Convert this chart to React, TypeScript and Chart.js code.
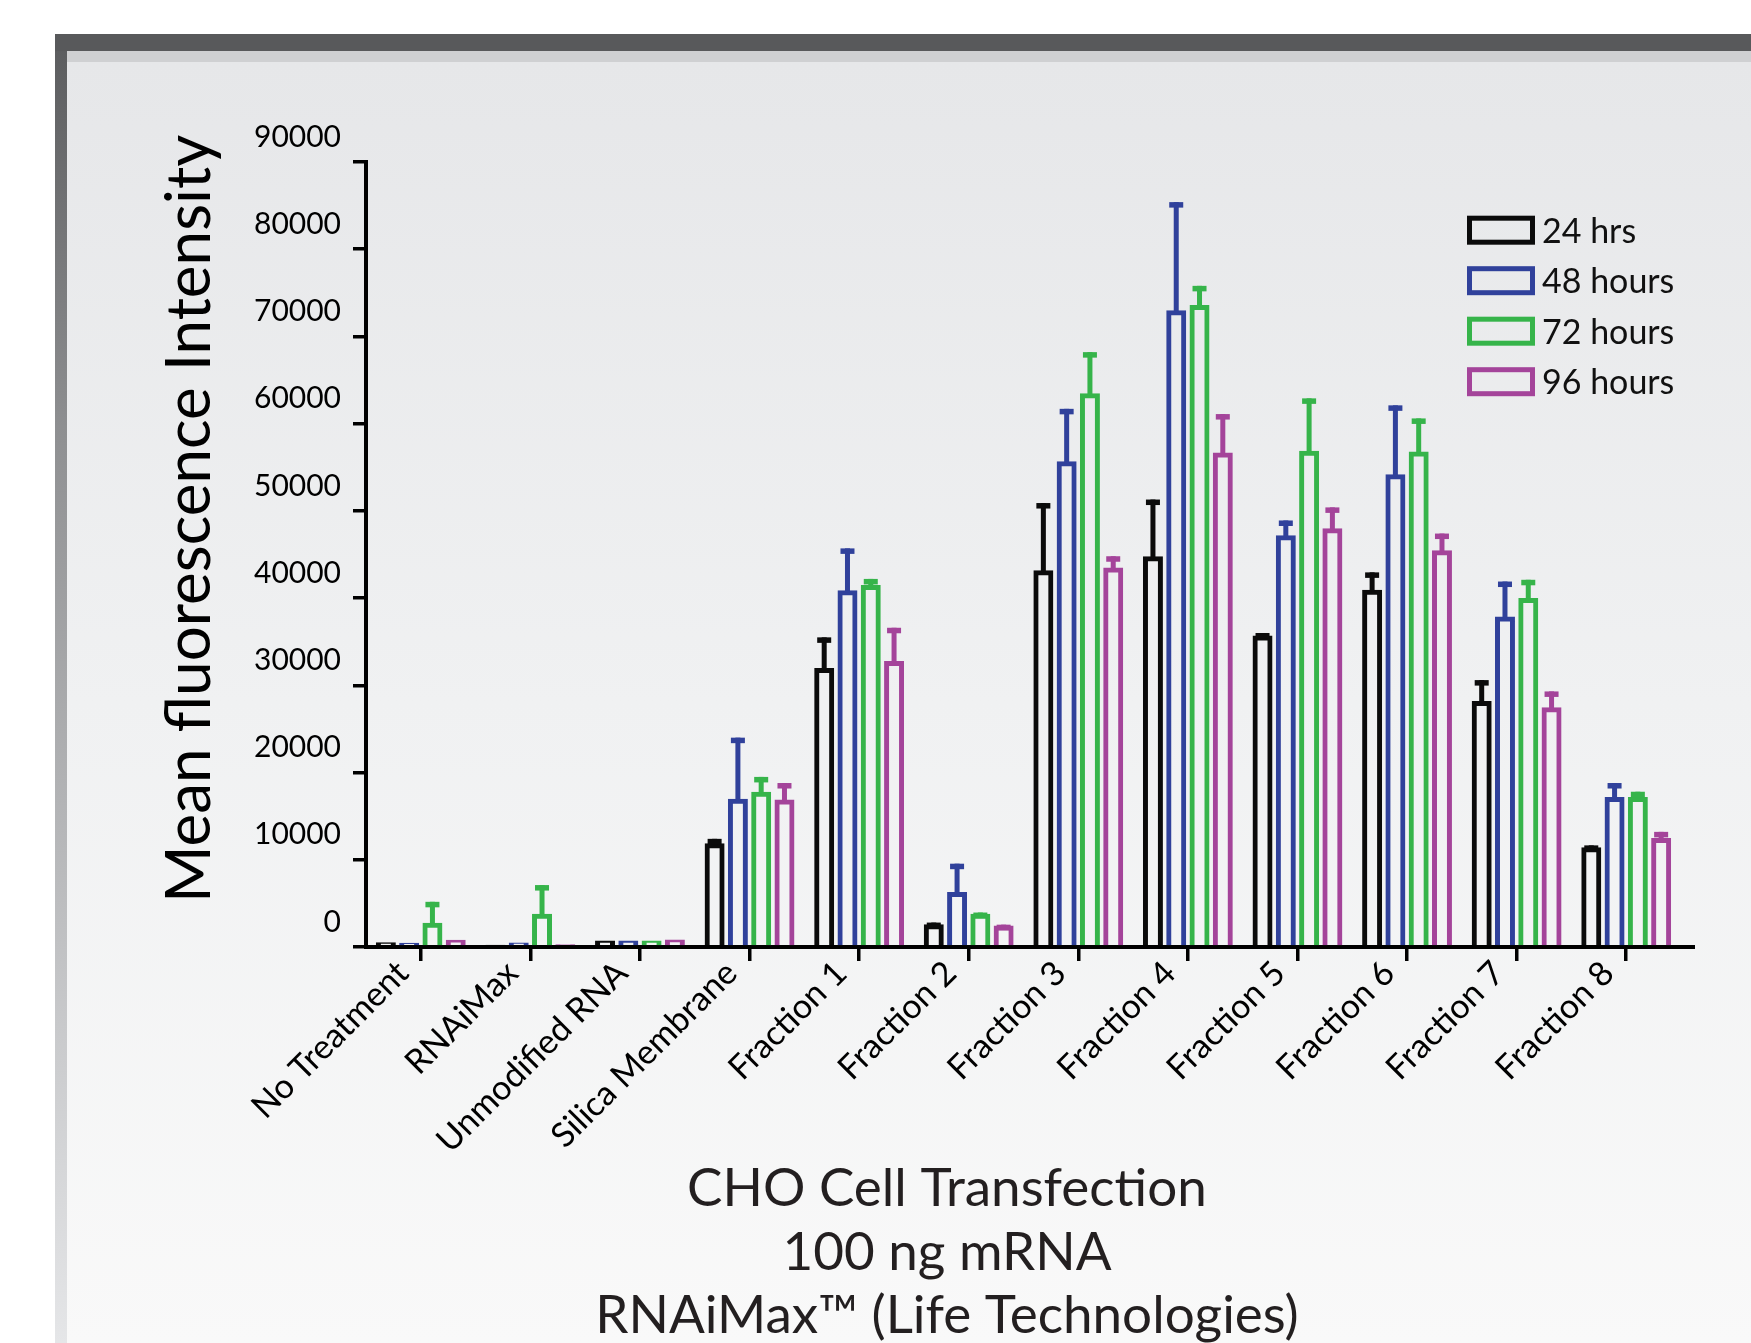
import React, { useEffect, useRef } from 'react';
import { Chart, registerables } from 'chart.js';

Chart.register(...registerables);

// ---------------- data ----------------
const categories = [
  'No Treatment',
  'RNAiMax',
  'Unmodified RNA',
  'Silica Membrane',
  'Fraction 1',
  'Fraction 2',
  'Fraction 3',
  'Fraction 4',
  'Fraction 5',
  'Fraction 6',
  'Fraction 7',
  'Fraction 8',
];

const seriesLabels = ['24 hrs', '48 hours', '72 hours', '96 hours'];

const hrs24 = [550, 250, 750, 11900, 32000, 2600, 43200, 44800, 35700, 40950, 28200, 11450];
const err24 = [0, 0, 0, 500, 3500, 200, 7700, 6500, 300, 2000, 2400, 200];

const hrs48 = [480, 520, 750, 17000, 40900, 6300, 55700, 73000, 47200, 54200, 37900, 17200];
const err48 = [0, 0, 0, 7000, 4800, 3250, 6000, 12400, 1700, 7900, 4000, 1600];

const hrs72 = [2780, 3800, 750, 17800, 41500, 3800, 63500, 73600, 56900, 56800, 40000, 17200];
const err72 = [2400, 3300, 0, 1700, 700, 150, 4700, 2200, 6000, 3800, 2100, 600];

const hrs96 = [830, 320, 860, 16900, 32800, 2460, 43500, 56700, 48000, 45500, 27500, 12500];
const err96 = [0, 0, 0, 1900, 3800, 100, 1300, 4400, 2400, 1900, 1800, 700];

const yMin = 0;
const yMax = 90000;
const yStep = 10000;

const yTitle = 'Mean fluorescence Intensity';
const captionLines = ['CHO Cell Transfection', '100 ng mRNA', 'RNAiMax\u2122 (Life Technologies)'];

// ---------------- styles ----------------
const W = 1751;
const H = 1343;
const seriesColors = ['#0b0b0b', '#30419b', '#36b44a', '#a4449a'];
const FONT = 'Lato, "Open Sans", "DejaVu Sans", sans-serif';

const backgroundPlugin = {
  id: 'frameBackground',
  beforeDraw(chart: any) {
    const ctx = chart.ctx as CanvasRenderingContext2D;
    ctx.save();
    ctx.fillStyle = '#ffffff';
    ctx.fillRect(0, 0, W, H);
    const lg = ctx.createLinearGradient(0, 34, 0, H);
    lg.addColorStop(0, '#5a5b5d');
    lg.addColorStop(0.3, '#8e8f91');
    lg.addColorStop(0.74, '#c6c7c9');
    lg.addColorStop(1, '#e5e6e8');
    ctx.fillStyle = lg;
    ctx.fillRect(55, 34, 12, H - 34);
    ctx.fillStyle = '#58595b';
    ctx.fillRect(55, 34, W - 55, 17);
    ctx.fillStyle = '#cfd0d2';
    ctx.fillRect(67, 51, W - 67, 11);
    const ig = ctx.createLinearGradient(0, 62, 0, H);
    ig.addColorStop(0, '#e6e7e9');
    ig.addColorStop(0.5, '#f0f1f2');
    ig.addColorStop(1, '#f9f9f9');
    ctx.fillStyle = ig;
    ctx.fillRect(67, 62, W - 67, H - 62);
    ctx.restore();
  },
};

const errorBarPlugin = {
  id: 'errorBars',
  afterDatasetsDraw(chart: any) {
    const ctx = chart.ctx as CanvasRenderingContext2D;
    const yScale = chart.scales.y;
    chart.data.datasets.forEach((ds: any, di: number) => {
      const meta = chart.getDatasetMeta(di);
      meta.data.forEach((bar: any, i: number) => {
        const e = ds.errors[i];
        if (!e) return;
        const v = ds.data[i];
        const yTop = yScale.getPixelForValue(v + e);
        const yBar = yScale.getPixelForValue(v);
        ctx.save();
        ctx.fillStyle = ds.borderColor;
        ctx.fillRect(bar.x - 2.5, yTop, 5, yBar - yTop + 2);
        ctx.fillRect(bar.x - 7, yTop, 14, 5.5);
        ctx.restore();
      });
    });
  },
};

const axisExtensionPlugin = {
  id: 'axisExtension',
  afterDraw(chart: any) {
    const ctx = chart.ctx as CanvasRenderingContext2D;
    const { right, bottom } = chart.chartArea;
    ctx.save();
    ctx.fillStyle = '#000';
    ctx.fillRect(right - 2, bottom - 2, 16, 4);
    ctx.restore();
  },
};

const legendPlugin = {
  id: 'customLegend',
  afterDraw(chart: any) {
    const ctx = chart.ctx as CanvasRenderingContext2D;
    ctx.save();
    chart.data.datasets.forEach((ds: any, i: number) => {
      const top = 215.7 + 50.5 * i;
      ctx.strokeStyle = ds.borderColor;
      ctx.lineWidth = 5;
      ctx.strokeRect(1467 + 2.5, top + 2.5, 68 - 5, 29 - 5);
      ctx.fillStyle = '#111';
      ctx.font = `34px ${FONT}`;
      ctx.textAlign = 'left';
      ctx.textBaseline = 'alphabetic';
      ctx.fillText(ds.label, 1542, top + 14.5 + 12.5);
    });
    ctx.restore();
  },
};

const textPlugin = {
  id: 'titles',
  afterDraw(chart: any) {
    const ctx = chart.ctx as CanvasRenderingContext2D;
    ctx.save();
    ctx.fillStyle = '#000';
    ctx.font = `62px ${FONT}`;
    ctx.textAlign = 'center';
    ctx.textBaseline = 'alphabetic';
    ctx.translate(209.5, 519);
    ctx.rotate(-Math.PI / 2);
    ctx.fillText(yTitle, 0, 0);
    ctx.restore();

    ctx.save();
    ctx.fillStyle = '#231f20';
    ctx.font = `53px ${FONT}`;
    ctx.textAlign = 'center';
    ctx.textBaseline = 'alphabetic';
    captionLines.forEach((line, i) => {
      ctx.fillText(line, 947, 1206 + 63.5 * i);
    });
    ctx.restore();
  },
};

const seriesValues = [hrs24, hrs48, hrs72, hrs96];
const seriesErrors = [err24, err48, err72, err96];

export default function App() {
  const ref = useRef<HTMLCanvasElement>(null);

  useEffect(() => {
    const canvas = ref.current;
    if (!canvas) return;
    const chart = new Chart(canvas, {
      type: 'bar',
      data: {
        labels: categories,
        datasets: seriesLabels.map((label, i) => ({
          label,
          data: seriesValues[i],
          errors: seriesErrors[i],
          borderColor: seriesColors[i],
          backgroundColor: 'rgba(0,0,0,0)',
          borderWidth: 5,
          borderSkipped: 'start',
          categoryPercentage: 0.85,
          barPercentage: 0.858,
        })) as any,
      },
      options: {
        responsive: false,
        animation: false,
        devicePixelRatio: 1,
        layout: { padding: { left: 0, top: 162, right: 70, bottom: 0 } },
        plugins: {
          legend: { display: false },
          title: { display: false },
          tooltip: { enabled: false },
        },
        scales: {
          x: {
            type: 'category',
            offset: true,
            afterFit: (scale: any) => {
              scale.height = 396;
            },
            grid: {
              display: true,
              drawOnChartArea: false,
              drawTicks: true,
              offset: false,
              tickLength: 14,
              tickWidth: 3.5,
              tickColor: '#000',
              lineWidth: 3.5,
              color: '#000',
            },
            border: { display: true, color: '#000', width: 4 },
            ticks: {
              autoSkip: false,
              minRotation: 45,
              maxRotation: 45,
              padding: -8,
              labelOffset: -18,
              color: '#000',
              font: { family: FONT, size: 34 },
            },
          },
          y: {
            type: 'linear',
            min: yMin,
            max: yMax,
            afterFit: (scale: any) => {
              scale.width = 366;
            },
            grid: {
              display: true,
              drawOnChartArea: false,
              drawTicks: true,
              tickLength: 13,
              tickWidth: 3.5,
              tickColor: '#000',
              lineWidth: 3.5,
              color: '#000',
            },
            border: { display: true, color: '#000', width: 4 },
            ticks: {
              stepSize: yStep,
              padding: 12,
              labelOffset: -25,
              color: '#000',
              font: { family: FONT, size: 30 },
              callback: (v: any) => String(v),
            },
          },
        },
      },
      plugins: [backgroundPlugin, errorBarPlugin, axisExtensionPlugin, legendPlugin, textPlugin],
    } as any);
    return () => chart.destroy();
  }, []);

  return (
    <div style={{ position: 'fixed', left: 0, top: 0, width: W, height: H, background: '#fff' }}>
      <canvas ref={ref} width={W} height={H} style={{ display: 'block', width: W, height: H }} />
    </div>
  );
}
